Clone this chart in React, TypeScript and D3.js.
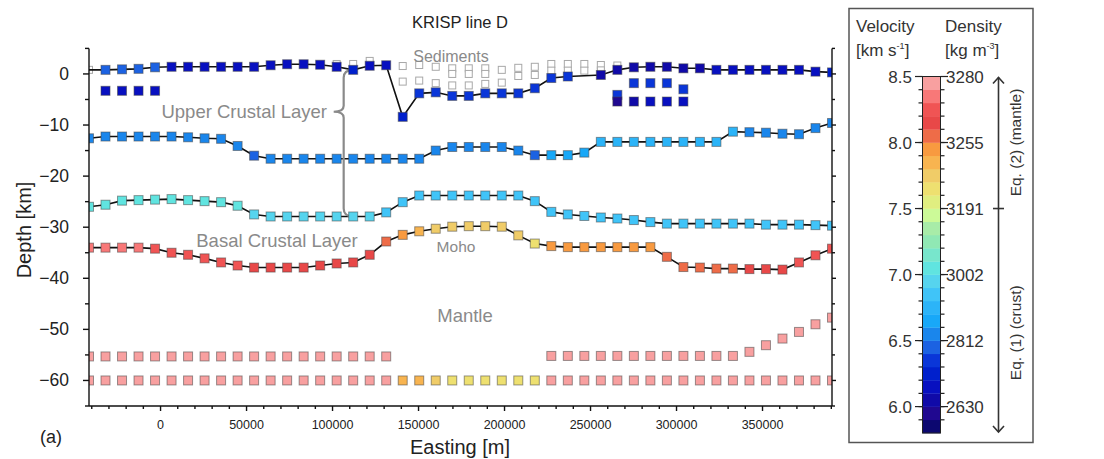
import React from 'react';
import * as d3 from 'd3';

// ---------- DATA ----------
// model node eastings (m)
const eastings = [-41600, -32000, -22400, -12800, -3200, 6400, 16000, 25600, 35200, 44800,
  54400, 64000, 73600, 83200, 92800, 102400, 112000, 121600, 131200, 140800,
  150400, 160000, 169600, 179200, 188800, 198400, 208000, 217600, 227200, 236800,
  246400, 256000, 265600, 275200, 284800, 294400, 304000, 313600, 323200, 332800,
  342400, 352000, 361600, 371200, 380800, 390400];

// top of crystalline crust (km), null = no node
const topDepth = [0.8, 0.8, 0.9, 1.0, 1.3, 1.4, 1.4, 1.4, 1.4, 1.4,
  1.4, 1.7, 1.9, 1.9, 1.8, 1.4, 0.8, 1.6, 1.7, -8.4,
  -3.8, -3.6, -4.3, -4.3, -3.8, -3.8, -3.8, -2.8, -0.8, -0.5,
  null, -0.2, 0.8, 1.3, 1.4, 1.4, 1.1, 1.1, 0.8, 0.8,
  0.8, 0.8, 0.8, 0.8, 0.45, 0.3];
const topVel = [null, 6.45, 6.45, 6.45, 6.45, 6.15, 6.15, 6.15, 6.15, 6.15,
  6.15, 6.15, 6.15, 6.15, 6.15, 6.15, 6.25, 6.15, 6.15, 6.25,
  6.35, 6.35, 6.35, 6.35, 6.35, 6.35, 6.35, 6.35, 6.35, 6.35,
  null, 6.05, 6.05, 6.05, 6.05, 6.05, 6.05, 6.05, 6.15, 6.15,
  6.15, 6.15, 6.15, 6.15, 6.15, 6.25];

// upper / basal crust boundary
const midDepth = [-12.6, -12.25, -12.25, -12.25, -12.25, -12.25, -12.4, -12.6, -12.7, -14.1,
  -16.0, -16.6, -16.6, -16.6, -16.6, -16.6, -16.6, -16.6, -16.6, -16.6,
  -16.6, -15.0, -14.3, -14.3, -14.3, -14.3, -15.0, -15.9, -15.9, -15.9,
  -15.4, -13.3, -13.3, -13.3, -13.3, -13.3, -13.3, -13.3, -13.3, -11.3,
  -11.4, -11.5, -11.7, -11.8, -10.6, -9.6];
const midVel = [6.55, 6.55, 6.55, 6.55, 6.55, 6.55, 6.55, 6.55, 6.55, 6.55,
  6.45, 6.55, 6.55, 6.55, 6.55, 6.55, 6.55, 6.55, 6.55, 6.55,
  6.55, 6.55, 6.55, 6.55, 6.55, 6.55, 6.55, 6.45, 6.65, 6.65,
  6.65, 6.75, 6.75, 6.75, 6.75, 6.75, 6.75, 6.75, 6.75, 6.75,
  6.55, 6.55, 6.55, 6.55, 6.55, 6.55];

// top of basal crustal layer
const basalDepth = [-26.0, -25.6, -24.8, -24.7, -24.6, -24.5, -24.7, -24.9, -25.1, -25.8,
  -27.5, -27.9, -27.9, -27.9, -27.9, -27.9, -27.9, -27.9, -27.1, -25.1,
  -23.8, -23.8, -23.8, -23.8, -23.8, -23.8, -23.8, -24.9, -27.0, -27.5,
  -27.8, -28.1, -28.3, -28.6, -29.0, -29.3, -29.3, -29.3, -29.3, -29.3,
  -29.3, -29.5, -29.5, -29.5, -29.6, -29.7];
const basalVel = [7.05, 7.05, 7.05, 7.05, 7.05, 7.05, 7.05, 7.05, 7.05, 7.05,
  6.95, 6.95, 6.95, 6.95, 6.95, 6.95, 6.95, 6.95, 6.85, 6.85,
  6.85, 6.85, 6.85, 6.85, 6.85, 6.85, 6.85, 6.85, 6.85, 6.85,
  6.85, 6.85, 6.85, 6.85, 6.85, 6.85, 6.85, 6.85, 6.85, 6.85,
  6.85, 6.85, 6.85, 6.85, 6.85, 6.85];

// Moho
const mohoDepth = [-34.0, -34.0, -34.0, -34.0, -34.2, -35.0, -35.4, -36.1, -36.9, -37.5,
  -37.9, -37.9, -37.9, -37.9, -37.5, -37.1, -36.9, -35.4, -32.8, -31.5,
  -30.8, -30.3, -29.9, -29.8, -29.8, -29.9, -31.6, -33.2, -33.7, -33.9,
  -33.9, -33.9, -33.9, -33.9, -33.9, -35.8, -37.8, -37.9, -38.1, -38.1,
  -38.2, -38.2, -38.3, -36.9, -35.5, -34.2];
const mohoVel = [8.35, 8.35, 8.35, 8.35, 8.25, 8.25, 8.25, 8.25, 8.25, 8.25,
  8.15, 8.15, 8.15, 8.15, 8.15, 8.15, 8.15, 8.15, 8.05, 7.95,
  7.85, 7.75, 7.75, 7.75, 7.75, 7.75, 7.75, 7.65, 7.95, 7.95,
  7.95, 7.95, 7.95, 7.95, 7.95, 8.05, 8.05, 8.05, 8.05, 8.05,
  8.15, 8.15, 8.15, 8.25, 8.25, 8.25];

// upper mantle nodes
const mantleUpperDepth = [-55.3, -55.3, -55.3, -55.3, -55.3, -55.3, -55.3, -55.3, -55.3, -55.3,
  -55.3, -55.3, -55.3, -55.3, -55.3, -55.3, -55.3, -55.3, -55.3, null,
  null, null, null, null, null, null, null, null, -55.2, -55.2,
  -55.2, -55.2, -55.2, -55.2, -55.2, -55.2, -55.2, -55.2, -55.2, -55.2,
  -54.4, -53.1, -51.8, -50.5, -49.0, -47.7];
const mantleUpperVel = 8.45;

const mantleLowerDepth = -60;
const mantleLowerVel = [8.45, 8.45, 8.45, 8.45, 8.45, 8.45, 8.45, 8.45, 8.45, 8.45,
  8.45, 8.45, 8.45, 8.45, 8.45, 8.45, 8.45, 8.45, 8.45, 7.85,
  7.85, 7.75, 7.65, 7.65, 7.65, 7.65, 7.65, 7.65, 8.45, 8.45,
  8.45, 8.45, 8.45, 8.45, 8.45, 8.45, 8.45, 8.45, 8.45, 8.45,
  8.45, 8.45, 8.45, 8.45, 8.45, 8.45];

// isolated upper-crust nodes
const westPatchNodes = [1, 2, 3, 4];
const westPatchDepth = [-3.3, -3.3, -3.3, -3.3];
const westPatchVel = [6.15, 6.15, 6.15, 6.15];
const eastPatchUpperNodes = [32, 33, 34, 35, 36];
const eastPatchUpperDepth = [-4.1, -1.8, -1.8, -1.8, -3.0];
const eastPatchUpperVel = [6.35, 6.35, 6.35, 6.35, 6.35];
const eastPatchLowerNodes = [32, 33, 34, 35, 36];
const eastPatchLowerDepth = [-5.4, -5.4, -5.4, -5.4, -5.4];
const eastPatchLowerVel = [5.95, 6.05, 6.15, 6.15, 6.15];

// sediment nodes (no velocity colour)
const sedTopNodes = [0, 15, 16, 17, 19, 20, 21, 22, 23, 24, 25, 26, 27, 28, 29, 30, 31, 32];
const sedTopDepth = [0.8, 1.95, 1.95, 2.55, 1.55, 1.75, 1.4, 1.1, 1.1, 1.1, 0.8, 1.2, 1.4, 1.95, 1.95, 1.95, 1.75, 1.65];
const sedMidNodes = [22, 23, 24, 26, 27, 28, 29, 30, 31];
const sedMidDepth = [0, 0, 0, -0.4, -0.2, 0.65, 0.65, 0.65, 0.7];
const sedBotNodes = [19, 20, 21, 22, 23, 24, 25];
const sedBotDepth = [-1.5, -1.3, -1.8, -2.25, -2.25, -1.95, -1.7];

// axes
const xMajorTicks = [0, 50000, 100000, 150000, 200000, 250000, 300000, 350000];
const xMinorTicks = [-40000, -30000, -20000, -10000, 10000, 20000, 30000, 40000, 60000, 70000, 80000, 90000,
  110000, 120000, 130000, 140000, 160000, 170000, 180000, 190000, 210000, 220000, 230000, 240000,
  260000, 270000, 280000, 290000, 310000, 320000, 330000, 340000, 360000, 370000, 380000, 390000];
const yMajorTicks = [0, -10, -20, -30, -40, -50, -60];
const yMinorTicks = [5, -5, -15, -25, -35, -45, -55, -65];

// colour scale (bins of 0.1 km/s from 5.8 to 8.5)
const cbColors = ['#0c0870', '#200890', '#100aa8', '#0810c0', '#0020cc', '#0a36d8', '#1c62e2', '#1a86ec',
  '#18a8f8', '#2cb4f8', '#40c4f8', '#56d4ee', '#60e4e0', '#78e6cc', '#90e8b4', '#a8eca8', '#ccfa98',
  '#e0ee80', '#eee070', '#f0cc68', '#f8b450', '#f89a40', '#ee6c48', '#e84848', '#f05454', '#f87878', '#f8a0a0'];
const velTicks = [8.5, 8.0, 7.5, 7.0, 6.5, 6.0];
const densTicks = ['3280', '3255', '3191', '3002', '2812', '2630'];

// ---------- LAYOUT ----------
const W = 1104, H = 459;
const PL = 89, PR = 832, PT = 48.4, PB = 406;
const FONT = 'Liberation Sans, Arial, Helvetica, sans-serif';

const x = d3.scaleLinear().domain([-41600, 390400]).range([PL, PR]);
const y = d3.scaleLinear().domain([-65, 5]).range([PB, PT]);
const cbY = d3.scaleLinear().domain([5.8, 8.5]).range([433, 76.5]);
const velColor = (v: number) => cbColors[Math.max(0, Math.min(26, Math.floor((v - 5.8) * 10 + 1e-6)))];

const SQ = 9;
const HSQ = 7;

function Square({ cx, cy, fill }: { cx: number; cy: number; fill: string }) {
  return <rect x={cx - SQ / 2} y={cy - SQ / 2} width={SQ} height={SQ} fill={fill}
    stroke="rgba(70,70,70,0.55)" strokeWidth={1} />;
}
function Hollow({ cx, cy }: { cx: number; cy: number }) {
  return <rect x={cx - HSQ / 2} y={cy - HSQ / 2} width={HSQ} height={HSQ} fill="#fff"
    stroke="#a8a8a8" strokeWidth={1} />;
}

const lineGen = d3.line<[number, number]>().x(d => d[0]).y(d => d[1]);
const linePts = (depths: (number | null)[]) =>
  depths.map((d, i) => (d == null ? null : [x(eastings[i]), y(d)] as [number, number]))
    .filter((p): p is [number, number] => p !== null);

export default function App() {
  const lines = [topDepth, midDepth, basalDepth, mohoDepth];
  const coloured: { cx: number; cy: number; v: number }[] = [];
  const addRow = (depths: (number | null)[], vels: (number | null)[] | number) => {
    depths.forEach((d, i) => {
      const v = typeof vels === 'number' ? vels : vels[i];
      if (d != null && v != null) coloured.push({ cx: x(eastings[i]), cy: y(d), v });
    });
  };
  addRow(topDepth, topVel);
  addRow(midDepth, midVel);
  addRow(basalDepth, basalVel);
  addRow(mohoDepth, mohoVel);
  addRow(mantleUpperDepth, mantleUpperVel);
  addRow(eastings.map(() => mantleLowerDepth), mantleLowerVel);
  const addSparse = (nodes: number[], depths: number[], vels: number[]) =>
    nodes.forEach((n, k) => coloured.push({ cx: x(eastings[n]), cy: y(depths[k]), v: vels[k] }));
  addSparse(westPatchNodes, westPatchDepth, westPatchVel);
  addSparse(eastPatchUpperNodes, eastPatchUpperDepth, eastPatchUpperVel);
  addSparse(eastPatchLowerNodes, eastPatchLowerDepth, eastPatchLowerVel);

  const hollows: { cx: number; cy: number }[] = [];
  const addHollow = (nodes: number[], depths: number[]) =>
    nodes.forEach((n, k) => hollows.push({ cx: x(eastings[n]), cy: y(depths[k]) }));
  addHollow(sedTopNodes, sedTopDepth);
  addHollow(sedMidNodes, sedMidDepth);
  addHollow(sedBotNodes, sedBotDepth);

  // brace between surface and basal layer
  const bn = 16;
  const bx = x(eastings[bn]) - 9.5;
  const bxe = x(eastings[bn]);
  const byTop = y(topDepth[bn] as number);
  const byBot = y(basalDepth[bn]);
  const byMid = y(-7.4);
  const bracePath = `M${bxe},${byTop} Q${bx},${byTop} ${bx},${byTop + 8} L${bx},${byMid - 6} Q${bx},${byMid} ${bx - 10},${byMid} Q${bx},${byMid} ${bx},${byMid + 6} L${bx},${byBot - 8} Q${bx},${byBot} ${bxe},${byBot}`;

  const cbMinor: number[] = [];
  for (let k = 1; k < 27; k++) cbMinor.push(5.8 + k * 0.1);

  const minus = (v: number) => (v < 0 ? '\u2212' + Math.abs(v) : String(v));

  return (
    <svg width={W} height={H} style={{ display: 'block', position: 'absolute', left: 0, top: 0 }}
      fontFamily={FONT}>
      <rect width={W} height={H} fill="#fff" />
      <defs>
        <clipPath id="plotclip">
          <rect x={PL} y={PT - 6} width={PR - PL} height={PB - PT + 6} />
        </clipPath>
      </defs>

      <text x={460} y={28} fontSize={16.5} textAnchor="middle" fill="#222">KRISP line D</text>

      <g clipPath="url(#plotclip)">
        {hollows.map((h, i) => <Hollow key={'h' + i} cx={h.cx} cy={h.cy} />)}
        {lines.map((l, i) => (
          <path key={'l' + i} d={lineGen(linePts(l)) || ''} fill="none" stroke="#111" strokeWidth={1.6} />
        ))}
        <path d={bracePath} fill="none" stroke="#8a8a8a" strokeWidth={2.2} />
        {coloured.map((c, i) => <Square key={'s' + i} cx={c.cx} cy={c.cy} fill={velColor(c.v)} />)}
      </g>

      {/* annotations */}
      <g fill="#8a8a8a">
        <text x={451} y={62} fontSize={16} textAnchor="middle">Sediments</text>
        <text x={327} y={118} fontSize={18.5} textAnchor="end">Upper Crustal Layer</text>
        <text x={277} y={246.5} fontSize={18.5} textAnchor="middle">Basal Crustal Layer</text>
        <text x={456} y={252} fontSize={15.5} textAnchor="middle">Moho</text>
        <text x={465} y={322} fontSize={18.5} textAnchor="middle">Mantle</text>
      </g>

      {/* axes */}
      <g stroke="#111" strokeWidth={1.4} fill="none">
        <line x1={PL} y1={PT} x2={PL} y2={PB} />
        <line x1={PR} y1={PT} x2={PR} y2={PB} />
        <line x1={PL} y1={PB} x2={PR} y2={PB} />
        {yMajorTicks.map(t => <line key={'ylm' + t} x1={PL - 6} x2={PL} y1={y(t)} y2={y(t)} />)}
        {yMinorTicks.map(t => <line key={'ylm2' + t} x1={PL - 4} x2={PL} y1={y(t)} y2={y(t)} />)}
        {yMajorTicks.map(t => <line key={'yrm' + t} x1={PR} x2={PR + 4} y1={y(t)} y2={y(t)} />)}
        {yMinorTicks.map(t => <line key={'yrm2' + t} x1={PR} x2={PR + 3} y1={y(t)} y2={y(t)} />)}
        {xMajorTicks.map(t => <line key={'xm' + t} x1={x(t)} x2={x(t)} y1={PB} y2={PB + 5} />)}
        {xMinorTicks.map(t => <line key={'xn' + t} x1={x(t)} x2={x(t)} y1={PB} y2={PB + 3} />)}
      </g>
      <g fill="#222">
        {yMajorTicks.map(t => (
          <text key={'yt' + t} x={69} y={y(t) + 6} fontSize={17.5} textAnchor="end">{minus(t)}</text>
        ))}
        {xMajorTicks.map(t => (
          <text key={'xt' + t} x={x(t)} y={429} fontSize={12.5} textAnchor="middle">{String(t)}</text>
        ))}
        <text x={460} y={454} fontSize={20} textAnchor="middle">Easting [m]</text>
        <text transform="translate(31,230) rotate(-90)" fontSize={20} textAnchor="middle">Depth [km]</text>
        <text x={40} y={443} fontSize={18}>(a)</text>
      </g>

      {/* colour bar panel */}
      <rect x={849} y={8.5} width={184} height={434} fill="none" stroke="#555" strokeWidth={1.5} />
      <g fill="#333" fontSize={17}>
        <text x={856} y={32}>Velocity</text>
        <text x={856} y={56}>[km s<tspan dy={-7} fontSize={9}>-1</tspan><tspan dy={7}>]</tspan></text>
        <text x={945} y={32}>Density</text>
        <text x={945} y={56}>[kg m<tspan dy={-7} fontSize={9}>-3</tspan><tspan dy={7}>]</tspan></text>
      </g>
      {cbColors.map((c, k) => (
        <rect key={'cb' + k} x={922.5} y={cbY(5.8 + (k + 1) * 0.1)} width={18}
          height={cbY(5.8 + k * 0.1) - cbY(5.8 + (k + 1) * 0.1) + 0.3} fill={c} />
      ))}
      <rect x={922.5} y={cbY(8.5)} width={18} height={cbY(5.8) - cbY(8.5)} fill="none" stroke="#222" strokeWidth={1} />
      <g stroke="#222" strokeWidth={1.2}>
        {cbMinor.map((v, i) => (
          <g key={'cbm' + i}>
            <line x1={918.5} x2={922.5} y1={cbY(v)} y2={cbY(v)} />
            <line x1={940.5} x2={944.5} y1={cbY(v)} y2={cbY(v)} />
          </g>
        ))}
        {velTicks.map(v => (
          <g key={'cbM' + v}>
            <line x1={915} x2={922.5} y1={cbY(v)} y2={cbY(v)} />
            <line x1={940.5} x2={948} y1={cbY(v)} y2={cbY(v)} />
          </g>
        ))}
      </g>
      <g fill="#333" fontSize={17}>
        {velTicks.map(v => (
          <text key={'vt' + v} x={912} y={cbY(v) + 6} textAnchor="end">{v.toFixed(1)}</text>
        ))}
        {densTicks.map((d, i) => (
          <text key={'dt' + d} x={946} y={cbY(velTicks[i]) + 6}>{d}</text>
        ))}
      </g>
      {/* equation arrow */}
      <g stroke="#333" strokeWidth={1.6} fill="none">
        <line x1={998.5} x2={998.5} y1={cbY(8.5) + 1} y2={cbY(5.8) - 1} />
        <path d={`M993,${cbY(8.5) + 7} L998.5,${cbY(8.5) + 1} L1004,${cbY(8.5) + 7}`} />
        <path d={`M993,${cbY(5.8) - 7} L998.5,${cbY(5.8) - 1} L1004,${cbY(5.8) - 7}`} />
        <line x1={993} x2={1004} y1={cbY(7.5)} y2={cbY(7.5)} />
      </g>
      <g fill="#333" fontSize={15.5}>
        <text transform={`translate(1021,${(cbY(8.5) + cbY(7.5)) / 2}) rotate(-90)`} textAnchor="middle">Eq. (2) (mantle)</text>
        <text transform={`translate(1021,${(cbY(7.5) + cbY(5.8)) / 2 + 12}) rotate(-90)`} textAnchor="middle">Eq. (1) (crust)</text>
      </g>
    </svg>
  );
}
